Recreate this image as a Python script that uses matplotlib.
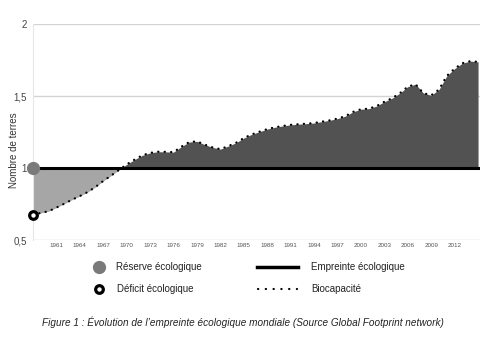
import matplotlib
matplotlib.use('Agg')
import matplotlib.pyplot as plt
import numpy as np

plt.rcParams['font.family'] = ['Liberation Sans', 'DejaVu Sans']

# Ratio empreinte / biocapacité (nombre de terres)
years = list(range(1958, 2016))
ratio = [0.675, 0.688, 0.700, 0.725, 0.752, 0.780, 0.805, 0.833, 0.868, 0.910,
         0.947, 0.986, 1.025, 1.058, 1.088, 1.105, 1.113, 1.112, 1.110, 1.148,
         1.180, 1.185, 1.162, 1.143, 1.131, 1.152, 1.175, 1.208, 1.233, 1.252,
         1.270, 1.283, 1.292, 1.300, 1.304, 1.308, 1.312, 1.322, 1.331, 1.343,
         1.360, 1.390, 1.408, 1.412, 1.430, 1.460, 1.485, 1.520, 1.565, 1.582,
         1.520, 1.505, 1.545, 1.640, 1.690, 1.728, 1.742, 1.737]
footprint = 1.0

yticks = [0.5, 1, 1.5, 2]
ytick_labels = ['0,5', '1', '1,5', '2']
xtick_years = list(range(1961, 2013, 3))

W, H = 486, 348
fig = plt.figure(figsize=(W / 100, H / 100), dpi=100)
ax = fig.add_axes([33 / W, 1 - 240 / H, 447 / W, 216 / H])

r = np.array(ratio)
ax.fill_between(years, r, footprint, where=r >= footprint, interpolate=True,
                color='#525252', lw=0, zorder=2)
ax.fill_between(years, r, footprint, where=r <= footprint, interpolate=True,
                color='#a6a6a6', lw=0, zorder=2)
ax.plot(years, ratio, color='black', lw=1.6, ls=(0, (0.1, 2.8)),
        dash_capstyle='round', zorder=4)
ax.axhline(footprint, color='black', lw=2.2, zorder=3)

# markers at the start of the series
ax.plot(years[0], footprint, 'o', ms=8.5, color='#7a7a7a', clip_on=False, zorder=5)
ax.plot(years[0], ratio[0], 'o', ms=5.5, mfc='white', mec='black', mew=2.3,
        clip_on=False, zorder=5)

ax.set_xlim(1958, 2015.25)
ax.set_ylim(0.5, 2.0)
ax.set_yticks(yticks)
ax.set_yticklabels(ytick_labels)
ax.set_xticks(xtick_years)
ax.set_xticklabels([str(y) for y in xtick_years])
ax.yaxis.grid(True, color='#d4d4d4', lw=1)
ax.set_axisbelow(True)
for s in ['top', 'right', 'bottom']:
    ax.spines[s].set_visible(False)
ax.spines['left'].set_color('#e6e6e6')
ax.tick_params(axis='y', length=0, pad=4.5, labelsize=7, labelcolor='#444444')
ax.tick_params(axis='x', length=0, pad=2, labelsize=4.5, labelcolor='#555555')
ax.set_ylabel('Nombre de terres', fontsize=7, color='#333333')
ax.yaxis.set_label_coords(-14 / 447, 90 / 216)

# legend and caption, drawn in pixel coordinates
lax = fig.add_axes([0, 0, 1, 1])
lax.set_xlim(0, W)
lax.set_ylim(H, 0)
lax.axis('off')

lax.plot(99, 267, 'o', ms=8.5, color='#7a7a7a')
lax.text(116, 267, 'Réserve écologique', va='center', fontsize=7, color='#222222')
lax.plot(99, 289, 'o', ms=5.5, mfc='white', mec='black', mew=2.3)
lax.text(117, 289, 'Déficit écologique', va='center', fontsize=7, color='#222222')
lax.plot([257, 298], [267, 267], color='black', lw=2.5)
lax.text(311, 267, 'Empreinte écologique', va='center', fontsize=7, color='#222222')
lax.plot([258, 297], [289, 289], color='black', lw=1.6, ls=(0, (0.1, 3.4)),
         dash_capstyle='round')
lax.text(311, 289, 'Biocapacité', va='center', fontsize=7, color='#222222')

fig.text(0.5, 1 - 322 / H,
         "Figure 1 : Évolution de l\u2019empreinte écologique mondiale (Source Global Footprint network)",
         ha='center', va='center', style='italic', fontsize=7.2, color='#222222')

fig.savefig('out.png', dpi=100)
